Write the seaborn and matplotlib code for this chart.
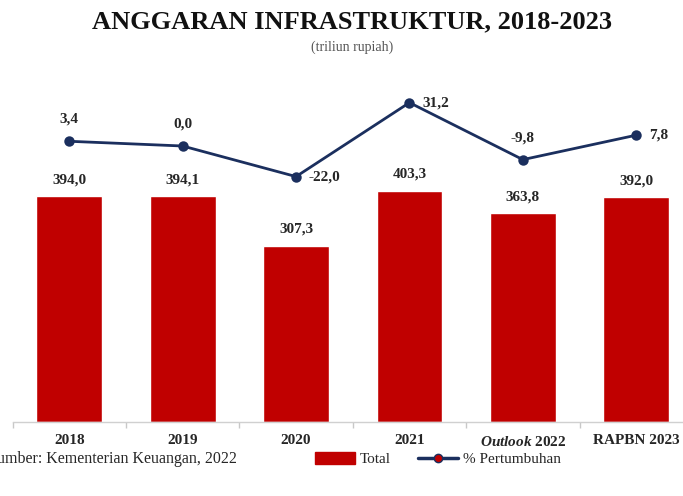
import numpy as np
import pandas as pd
import matplotlib.pyplot as plt
import seaborn as sns
from matplotlib.patches import Patch
from matplotlib.lines import Line2D

# Data
categories = ["2018", "2019", "2020", "2021", "Outlook 2022", "RAPBN 2023"]
tick_labels = ["2018", "2019", "2020", "2021", "$\\it{Outlook}$ 2022", "RAPBN 2023"]
total = [394.0, 394.1, 307.3, 403.3, 363.8, 392.0]
growth = [3.4, 0.0, -22.0, 31.2, -9.8, 7.8]
growth_pos = ["above", "above", "right", "right", "above", "right"]

BAR_RED = "#C00000"
LINE_BLUE = "#1B2F5E"
TEXT = "#262626"

sns.set_theme(style="white")
plt.rcParams["font.family"] = ["Liberation Serif", "DejaVu Serif"]
plt.rcParams["mathtext.fontset"] = "custom"
plt.rcParams["mathtext.it"] = "Liberation Serif:italic:bold"
plt.rcParams["mathtext.rm"] = "Liberation Serif:bold"

df = pd.DataFrame({"cat": categories, "total": total, "growth": growth})

fig = plt.figure(figsize=(6.83, 4.96), dpi=100)
W, H = 683, 496
# axes in pixel geometry: x from 12.5 to 693, y from 422 (bottom) to 80 (top)
ax = fig.add_axes([12.5 / W, (H - 422) / H, (693 - 12.5) / W, (422 - 80) / H])

sns.barplot(data=df, x="cat", y="total", color=BAR_RED, width=0.58,
            saturation=1, ax=ax)
ax.set_xlim(-0.5, 5.5)
ax.set_ylim(0, 342 / 0.574)

for i, v in enumerate(total):
    ax.annotate(f"{v:.1f}".replace(".", ","), (i, v), xytext=(0, 7),
                textcoords="offset points", ha="center", va="bottom",
                fontsize=11, fontweight="bold", color=TEXT)

ax2 = ax.twinx()
sns.pointplot(data=df, x="cat", y="growth", color=LINE_BLUE, markers="o",
              linestyles="-", markersize=6, linewidth=2, ax=ax2)
ax2.set_xlim(-0.5, 5.5)
k = 1.39
ax2.set_ylim(-(422 - 146) / k, (146 - 80) / k)

for i, v in enumerate(growth):
    s = f"{v:.1f}".replace(".", ",")
    if growth_pos[i] == "above":
        ax2.annotate(s, (i, v), xytext=(0, 11), textcoords="offset points",
                     ha="center", va="bottom", fontsize=11, fontweight="bold",
                     color=TEXT)
    else:
        ax2.annotate(s, (i, v), xytext=(9, 0), textcoords="offset points",
                     ha="left", va="center", fontsize=11, fontweight="bold",
                     color=TEXT)

for a in (ax, ax2):
    for sp in ["top", "left", "right"]:
        a.spines[sp].set_visible(False)
    a.set_ylabel("")
    a.set_xlabel("")
    a.set_yticks([])
ax2.spines["bottom"].set_visible(False)
ax2.set_xticks([])
ax.spines["bottom"].set_color("#d0d0d0")
ax.spines["bottom"].set_linewidth(1)

ax.set_xticks(range(len(categories)))
ax.set_xticklabels(tick_labels, fontsize=11, fontweight="bold", color=TEXT)
ax.set_xticks(np.arange(-0.5, 6, 1), minor=True)
ax.tick_params(axis="x", which="major", length=0, pad=9)
ax.tick_params(axis="x", which="minor", length=4, color="#c8c8c8", width=1,
               bottom=True)

fig.text(352 / W, 1 - 22 / H, "ANGGARAN INFRASTRUKTUR, 2018-2023", ha="center",
         va="center", fontsize=19, fontweight="bold", color="#111111")
fig.text(352 / W, 1 - 47 / H, "(triliun rupiah)", ha="center", va="center",
         fontsize=10, color="#555555")
# source note, cropped at the left edge as in the original
fig.text(237 / W, 1 - 459 / H, "Sumber: Kementerian Keuangan, 2022",
         ha="right", va="center", fontsize=11.5, color=TEXT)

handles = [Patch(facecolor=BAR_RED, edgecolor=BAR_RED, label="Total"),
           Line2D([0], [0], color=LINE_BLUE, lw=2.5, marker="o", markersize=6,
                  markerfacecolor=BAR_RED, markeredgecolor=LINE_BLUE,
                  label="% Pertumbuhan")]
fig.legend(handles=handles, loc="center", bbox_to_anchor=(438 / W, 1 - 459 / H),
           ncol=2, frameon=False, fontsize=11, handlelength=2.6,
           handleheight=0.8, columnspacing=1.8, handletextpad=0.3)

fig.savefig("out.png", dpi=100)
